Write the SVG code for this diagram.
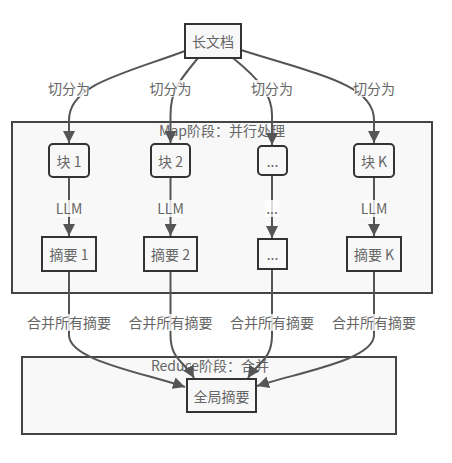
<svg xmlns="http://www.w3.org/2000/svg" width="452" height="463" viewBox="0 0 452 463">
<defs>
<marker id="arr" markerUnits="userSpaceOnUse" markerWidth="12" markerHeight="12" viewBox="0 0 10 10" refX="10" refY="5" orient="auto">
<path d="M0,0 L10,5 L0,10 z" fill="#555"/>
</marker>
<style>
text{font-family:"Noto Sans CJK SC","Noto Sans",sans-serif;font-size:14px;fill:#666;text-anchor:middle;dominant-baseline:central}
.cl{fill:#f8f8f8;stroke:#444;stroke-width:2}
.nd{fill:#f8f8f8;stroke:#333;stroke-width:2}
.e{fill:none;stroke:#555;stroke-width:2}
.lb{fill:#fff;opacity:0.8}
</style>
</defs>
<rect width="452" height="463" fill="#fff"/>
<g id="cluster-map"><rect class="cl" x="12" y="122" width="420" height="171"/><text x="222" y="130">Map阶段：并行处理</text></g>
<g id="cluster-reduce"><rect class="cl" x="22" y="357" width="374" height="77"/><text x="210" y="365">Reduce阶段：合并</text></g>
<g id="connectors">
<path class="e" d="M185,51 C120,75 69,85 69,120 L69,143" marker-end="url(#arr)"/>
<path class="e" d="M198,58 C180,80 170.5,90 170.5,115 L170.5,143" marker-end="url(#arr)"/>
<path class="e" d="M233,58 C260,80 272,95 272,115 L272,145" marker-end="url(#arr)"/>
<path class="e" d="M241,50 C320,75 374,85 374,120 L374,143" marker-end="url(#arr)"/>
<path class="e" d="M69,177 L69,236" marker-end="url(#arr)"/>
<path class="e" d="M170.5,177 L170.5,236" marker-end="url(#arr)"/>
<path class="e" d="M272,175 L272,238" marker-end="url(#arr)"/>
<path class="e" d="M374,177 L374,236" marker-end="url(#arr)"/>
<path class="e" d="M69,271 L69,335 C69,360 140,372 185,387" marker-end="url(#arr)"/>
<path class="e" d="M170.5,271 L170.5,335 C170.5,360 185,362 194,378" marker-end="url(#arr)"/>
<path class="e" d="M272,269 L272,335 C272,360 258,362 248,378" marker-end="url(#arr)"/>
<path class="e" d="M374,271 L374,335 C374,360 300,372 257,386" marker-end="url(#arr)"/>
<g id="edge-labels">
<rect class="lb" x="49" y="80" width="40" height="17"/><text x="69" y="88">切分为</text>
<rect class="lb" x="150" y="80" width="41" height="17"/><text x="170.5" y="88">切分为</text>
<rect class="lb" x="252" y="80" width="40" height="17"/><text x="272" y="88">切分为</text>
<rect class="lb" x="354" y="80" width="40" height="17"/><text x="374" y="88">切分为</text>
<rect class="lb" x="57" y="200" width="24" height="17"/><text x="69" y="208">LLM</text>
<rect class="lb" x="158" y="200" width="25" height="17"/><text x="170.5" y="208">LLM</text>
<rect class="lb" x="265" y="200" width="14" height="17"/><text x="272" y="208">...</text>
<rect class="lb" x="362" y="200" width="24" height="17"/><text x="374" y="208">LLM</text>
<rect class="lb" x="28" y="314" width="82" height="17"/><text x="69" y="322">合并所有摘要</text>
<rect class="lb" x="129" y="314" width="83" height="17"/><text x="170.5" y="322">合并所有摘要</text>
<rect class="lb" x="231" y="314" width="82" height="17"/><text x="272" y="322">合并所有摘要</text>
<rect class="lb" x="333" y="314" width="82" height="17"/><text x="374" y="322">合并所有摘要</text>
</g>
</g>
<g id="node-doc"><rect class="nd" x="185" y="24" width="56" height="34"/><text x="213" y="41">长文档</text></g>
<g id="node-c1"><rect class="nd" x="49" y="144" width="40" height="33" rx="4"/><text x="69" y="160.5">块 1</text></g>
<g id="node-c2"><rect class="nd" x="151" y="144" width="39" height="33" rx="4"/><text x="170.5" y="160.5">块 2</text></g>
<g id="node-c3"><rect class="nd" x="258" y="146" width="29" height="29" rx="4"/><text x="272.5" y="160.5">...</text></g>
<g id="node-ck"><rect class="nd" x="354" y="144" width="40" height="33" rx="4"/><text x="374" y="160.5">块 K</text></g>
<g id="node-s1"><rect class="nd" x="42" y="237" width="54" height="34"/><text x="69" y="254">摘要 1</text></g>
<g id="node-s2"><rect class="nd" x="144" y="237" width="53" height="34"/><text x="170.5" y="254">摘要 2</text></g>
<g id="node-s3"><rect class="nd" x="258" y="239" width="29" height="30"/><text x="272.5" y="254">...</text></g>
<g id="node-sk"><rect class="nd" x="347" y="237" width="54" height="34"/><text x="374" y="254">摘要 K</text></g>
<g id="node-global"><rect class="nd" x="187" y="379" width="69" height="33"/><text x="221.5" y="395.5">全局摘要</text></g>
</svg>
